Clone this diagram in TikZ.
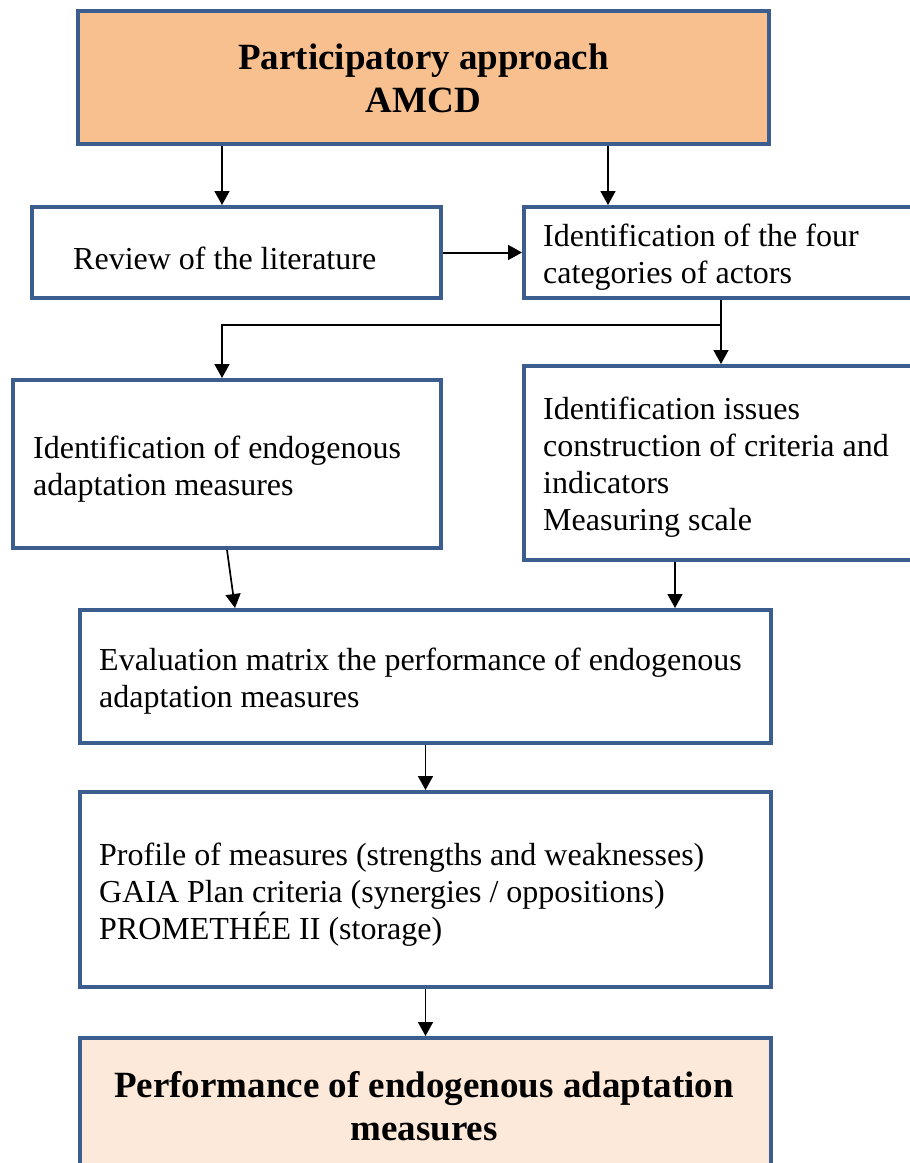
\documentclass[tikz,border=0pt]{standalone}
\usepackage{fontspec}
\setmainfont{Liberation Serif}
\usetikzlibrary{arrows.meta}
\definecolor{bordblue}{HTML}{3B5E8F}
\definecolor{topfill}{HTML}{F9C08F}
\definecolor{botfill}{HTML}{FDE9D9}
\tikzset{
 box/.style={draw=bordblue,line width=4pt,fill=white,inner sep=0pt,rectangle},
 txt/.style={inner sep=0pt,align=left,font=\fontsize{32}{37}\selectfont},
 btxt/.style={inner sep=0pt,align=center,font=\bfseries\fontsize{37}{43}\selectfont},
 arr/.style={line width=1.7pt,-{Triangle[length=14pt,width=15pt]}},
 ln/.style={line width=1.7pt}
}
\begin{document}
\begin{tikzpicture}[x=1pt,y=-1pt]
\useasboundingbox (0,0) rectangle (910,1163);
\clip (0,0) rectangle (910,1163);
\fill[white] (0,0) rectangle (910,1163);
% boxes
\node[box,fill=topfill,minimum width=691pt,minimum height=133pt] (top) at (423.5,77.5) {};
\node[box,minimum width=409pt,minimum height=91pt] (review) at (236.5,252.5) {};
\node[box,minimum width=416pt,minimum height=91pt] (cats) at (732,252.5) {};
\node[box,minimum width=428pt,minimum height=168pt] (endo) at (227,464) {};
\node[box,minimum width=416pt,minimum height=194pt] (issues) at (732,463) {};
\node[box,minimum width=691pt,minimum height=133pt] (eval) at (425.5,676.5) {};
\node[box,minimum width=691pt,minimum height=195pt] (profile) at (425.5,889.5) {};
\node[box,fill=botfill,minimum width=691pt,minimum height=162pt] (perf) at (425.5,1119) {};
% helper coordinates
\coordinate (a1) at (222,0);
\coordinate (a2) at (608,0);
\coordinate (split) at (721,325);
\coordinate (e1) at (235,0);
\coordinate (e2) at (675,0);
% connectors
\draw[arr] (top.south -| a1) -- (review.north -| a1);
\draw[arr] (top.south -| a2) -- (cats.north -| a2);
\draw[arr,line width=2pt] (review.east) -- (review.east -| cats.west);
\draw[ln] (cats.south -| split) -- (split);
\draw[arr] (split) -- (issues.north -| split);
\draw[arr] (split) -- (split -| a1) -- (endo.north -| a1);
\draw[arr] (endo.south) -- (eval.north -| e1);
\draw[arr] (issues.south -| e2) -- (eval.north -| e2);
\draw[arr] (eval.south) -- (profile.north);
\draw[arr] (profile.south) -- (perf.north);
% texts
\node[btxt,anchor=north] (ttop) at (423.5,44) {Participatory approach\\AMCD};
\node[txt,anchor=west] (treview) at (73,258) {Review of the literature};
\node[txt,anchor=north west] (tcats) at (543,224) {Identification of the four\\categories of actors};
\node[txt,anchor=north west] (tendo) at (33,436) {Identification of endogenous\\adaptation measures};
\node[txt,anchor=north west] (tissues) at (543,397) {Identification issues\\construction of criteria and\\indicators\\Measuring scale};
\node[txt,anchor=north west] (teval) at (99,648) {Evaluation matrix the performance of endogenous\\adaptation measures};
\node[txt,anchor=north west] (tprof) at (99,843) {Profile of measures (strengths and weaknesses)\\GAIA Plan criteria (synergies / oppositions)\\PROMETHÉE II (storage)};
\node[btxt,anchor=north] (tperf) at (424,1071) {Performance of endogenous adaptation\\measures};
\end{tikzpicture}
\end{document}
